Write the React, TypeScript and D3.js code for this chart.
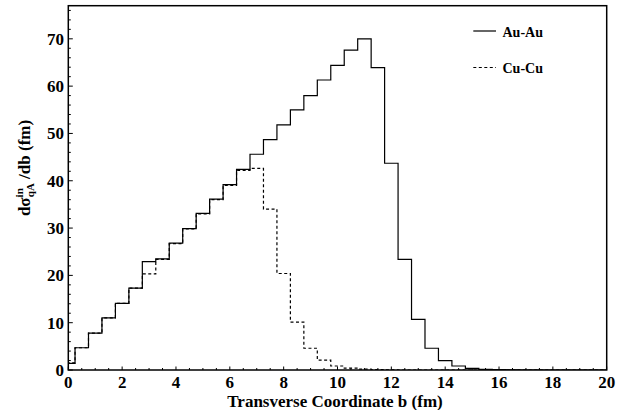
import React from "react";
import * as d3 from "d3";

const binCenters: number[] = d3.range(0, 20.01, 0.5).map((v) => +v.toFixed(2));

const auAu: number[] = [
  1.4, 4.7, 7.8, 11.0, 14.1, 17.3, 22.9, 23.5, 26.8, 29.9, 33.1, 36.1, 39.2,
  42.4, 45.6, 48.7, 51.8, 55.0, 58.0, 61.3, 64.4, 67.6, 70.0, 63.9, 43.7, 23.4,
  10.7, 4.6, 2.0, 0.85, 0.35, 0.15, 0.07, 0.03, 0, 0, 0, 0, 0, 0, 0,
];

const cuCu: number[] = [
  1.5, 4.7, 7.8, 11.0, 14.1, 17.3, 20.3, 23.4, 26.7, 29.8, 33.0, 36.0, 39.0,
  42.2, 42.6, 34.0, 20.4, 10.1, 4.6, 2.1, 0.85, 0.4, 0.2, 0.1, 0.04, 0, 0, 0,
  0, 0, 0, 0, 0, 0, 0, 0, 0, 0, 0, 0, 0,
];

const xTicksMajor: number[] = [0, 2, 4, 6, 8, 10, 12, 14, 16, 18, 20];
const yTicksMajor: number[] = [0, 10, 20, 30, 40, 50, 60, 70];

const seriesNames: string[] = ["Au-Au", "Cu-Cu"];
const xTitle = "Transverse Coordinate b (fm)";

const W = 629;
const H = 410;
const left = 68.3;
const right = 606.7;
const top = 5.7;
const bottom = 370;
const font = "Liberation Serif, DejaVu Serif, Times, serif";

export default function App() {
  const x = d3.scaleLinear().domain([0, 20]).range([left, right]);
  const y = d3.scaleLinear().domain([0, 77]).range([bottom, top]);

  const stepPath = (vals: number[]) => {
    const pts: [number, number][] = [[0, 0]];
    binCenters.forEach((c, i) => {
      const l = Math.max(0, c - 0.25);
      const r = Math.min(20, c + 0.25);
      pts.push([l, vals[i]]);
      pts.push([r, vals[i]]);
    });
    pts.push([20, 0]);
    return d3
      .line<[number, number]>()
      .x((d) => x(d[0]))
      .y((d) => y(d[1]))(pts) as string;
  };

  const xMinor = d3.range(0, 20.01, 0.5);
  const yMinor = d3.range(0, 77, 2);
  const txt = { fontFamily: font, fontWeight: 700 as const };

  return (
    <svg width={W} height={H} style={{ position: "absolute", left: 0, top: 0 }}>
      <rect width={W} height={H} fill="#fff" />
      <defs>
        <clipPath id="plot">
          <rect x={left} y={top} width={right - left} height={bottom - top} />
        </clipPath>
      </defs>
      <g clipPath="url(#plot)">
        <path d={stepPath(auAu)} fill="none" stroke="#000" strokeWidth={1.2} />
        <path
          d={stepPath(cuCu)}
          fill="none"
          stroke="#000"
          strokeWidth={1.2}
          strokeDasharray="3,2.5"
        />
      </g>
      {yMinor.map((v) => (
        <line
          key={"ym" + v}
          x1={left}
          x2={left + (v % 10 === 0 ? 4.5 : 2.5)}
          y1={y(v)}
          y2={y(v)}
          stroke="#000"
          strokeWidth={1}
        />
      ))}
      {xMinor.map((v) => (
        <line
          key={"xm" + v}
          x1={x(v)}
          x2={x(v)}
          y1={bottom}
          y2={bottom - (v % 2 === 0 ? 3.5 : 2)}
          stroke="#000"
          strokeWidth={1}
        />
      ))}
      <rect
        x={left}
        y={top}
        width={right - left}
        height={bottom - top}
        fill="none"
        stroke="#000"
        strokeWidth={1.5}
      />
      {yTicksMajor.map((v) => (
        <text
          key={"yl" + v}
          x={64}
          y={y(v) + 6}
          textAnchor="end"
          style={{ ...txt, fontSize: 17 }}
        >
          {v}
        </text>
      ))}
      {xTicksMajor.map((v) => (
        <text
          key={"xl" + v}
          x={x(v)}
          y={387.5}
          textAnchor="middle"
          style={{ ...txt, fontSize: 17 }}
        >
          {v}
        </text>
      ))}
      <text x={335} y={406.5} textAnchor="middle" style={{ ...txt, fontSize: 17 }}>
        {xTitle}
      </text>
      <text
        transform="translate(29.5,168) rotate(-90)"
        textAnchor="middle"
        style={{ ...txt, fontSize: 17 }}
      >
        dσ
        <tspan style={{ fontSize: 11 }} dy={-7}>
          in
        </tspan>
        <tspan style={{ fontSize: 11 }} dx={-9} dy={11}>
          qA
        </tspan>
        <tspan dy={-4}> /db (fm)</tspan>
      </text>
      <line x1={473.3} x2={496} y1={31} y2={31} stroke="#000" strokeWidth={1.2} />
      <line
        x1={473.3}
        x2={496}
        y1={67.5}
        y2={67.5}
        stroke="#000"
        strokeWidth={1.2}
        strokeDasharray="3,2.5"
      />
      <text x={502.5} y={36.5} style={{ ...txt, fontSize: 14 }}>
        {seriesNames[0]}
      </text>
      <text x={502.5} y={73} style={{ ...txt, fontSize: 14 }}>
        {seriesNames[1]}
      </text>
    </svg>
  );
}
